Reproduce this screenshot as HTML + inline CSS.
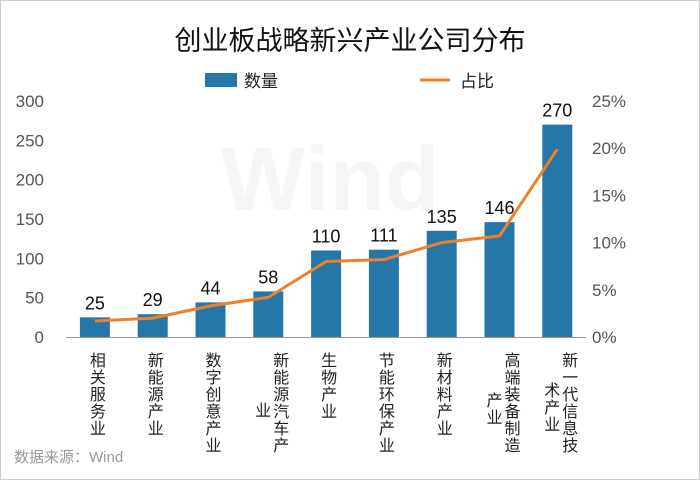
<!DOCTYPE html>
<html><head><meta charset="utf-8">
<style>
body{margin:0;background:#fff;}
#wrap{position:relative;width:700px;height:480px;overflow:hidden;font-family:"Liberation Sans","Noto Sans CJK SC",sans-serif;}
.cat{position:absolute;top:352px;width:20px;writing-mode:vertical-rl;font-size:16px;line-height:20px;color:#222;letter-spacing:1px;}
</style></head>
<body>
<div id="wrap">
<svg id="svg" width="700" height="480" style="position:absolute;left:0;top:0">
<rect x="0.5" y="0.5" width="699" height="479" fill="#fff" stroke="#ccc"/>
<text x="350" y="50" text-anchor="middle" font-size="27" fill="#111">创业板战略新兴产业公司分布</text>
<text x="330" y="210" text-anchor="middle" font-size="90" font-weight="bold" fill="#f6f6f6">Wind</text>
<rect x="205" y="73" width="32" height="14" fill="#2577a8"/>
<text x="244" y="87" font-size="17" fill="#222">数量</text>
<line x1="420" y1="80" x2="450" y2="80" stroke="#f07f2a" stroke-width="3"/>
<text x="460" y="87" font-size="17" fill="#222">占比</text>
<text x="14" y="462" font-size="15" fill="#999">数据来源：Wind</text>
<g id="g"></g>
</svg>
<div id="cats"></div>
</div>
<script>
const categories=["相关服务业","新能源产业","数字创意产业","新能源汽车产业","生物产业","节能环保产业","新材料产业","高端装备制造产业","新一代信息技术产业"];
const counts=[25,29,44,58,110,111,135,146,270];
const shares=[1.7,2.0,3.3,4.2,8.0,8.2,10.0,10.7,19.9];
const leftTicks=[0,50,100,150,200,250,300];
const rightTicks=[0,5,10,15,20,25];
const y0=337,y1=101,x0=66,step=57.8;
const yL=v=>y0-(v/300)*(y0-y1);
const yR=v=>y0-(v/25)*(y0-y1);
const xC=i=>x0+step*(i+0.5);
const NS="http://www.w3.org/2000/svg";
const g=document.getElementById('g');
function mk(t,a){const e=document.createElementNS(NS,t);for(const k in a)e.setAttribute(k,a[k]);g.appendChild(e);return e;}
leftTicks.forEach(v=>{const t=mk('text',{x:44,y:yL(v)+6,'text-anchor':'end','font-size':17,fill:'#555'});t.textContent=v;

});
rightTicks.forEach(v=>{const t=mk('text',{x:592,y:yR(v)+6,'font-size':17,fill:'#555'});t.textContent=v+'%';

});
const ax=mk('line',{x1:x0,y1:y0+0.5,x2:x0+step*9,y2:y0+0.5,stroke:'#999'});


counts.forEach((v,i)=>{const r=mk('rect',{x:xC(i)-15,y:yL(v),width:30,height:y0-yL(v),fill:'#2577a8'});


const t=mk('text',{x:xC(i),y:yL(v)-8,'text-anchor':'middle','font-size':18,fill:'#111'});t.textContent=v;

});
const p=mk('polyline',{points:shares.map((v,i)=>xC(i)+','+yR(v)).join(' '),fill:'none',stroke:'#f07f2a','stroke-width':3});


const cd=document.getElementById('cats');
categories.forEach((c,i)=>{
  const a=c.slice(0,6),b=c.slice(6);
  const d=document.createElement('div');d.className='cat';
  d.style.left=(xC(i)-10+(b?10:0))+'px';d.textContent=a;
  
  
  cd.appendChild(d);
  if(b){const e=document.createElement('div');e.className='cat';
    e.style.left=(xC(i)-18)+'px';
    e.style.top=(352+(6-b.length)*10)+'px';
    e.textContent=b;
    
    
    cd.appendChild(e);}
});
</script>
</body></html>
